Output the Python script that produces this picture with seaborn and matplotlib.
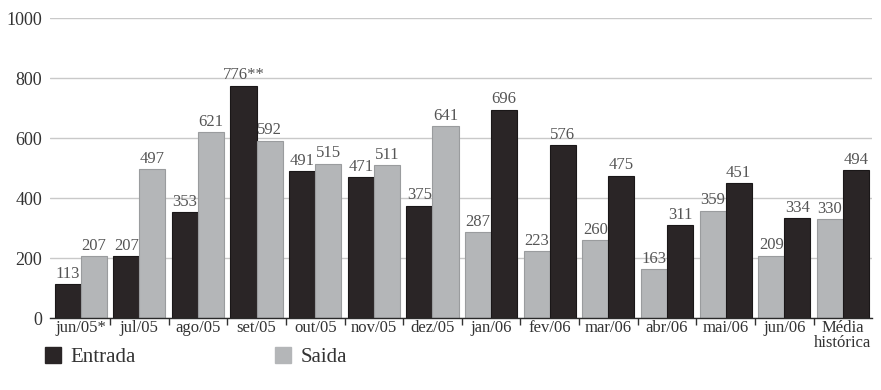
import numpy as np
import pandas as pd
import matplotlib
matplotlib.use("Agg")
import matplotlib.pyplot as plt
from matplotlib.patches import Patch
from matplotlib.ticker import FixedLocator
import seaborn as sns

# Monthly counts, June 2005 to June 2006, plus the historical mean
months = ["jun/05*", "jul/05", "ago/05", "set/05", "out/05", "nov/05", "dez/05",
          "jan/06", "fev/06", "mar/06", "abr/06", "mai/06", "jun/06", "Média\nhistórica"]
entrada = [113, 207, 353, 776, 491, 471, 375, 696, 576, 475, 311, 451, 334, 494]
saida = [207, 497, 621, 592, 515, 511, 641, 287, 223, 260, 163, 359, 209, 330]
entrada_notes = ["", "", "", "**", "", "", "", "", "", "", "", "", "", ""]
# From jan/06 on, the Saida bar is drawn first in each pair
saida_first = [False] * 7 + [True] * 7

DARK = "#2a2526"
GRAY = "#b4b6b8"
colors = {"Entrada": DARK, "Saida": GRAY}

rows = []
for m, e, s, note, sf in zip(months, entrada, saida, entrada_notes, saida_first):
    pair = [("Saida", s, ""), ("Entrada", e, note)] if sf else [("Entrada", e, note), ("Saida", s, "")]
    for slot, (series, val, nt) in zip(["left", "right"], pair):
        rows.append({"month": m, "slot": slot, "series": series, "value": val,
                     "label": f"{val}{nt}"})
df = pd.DataFrame(rows)

sns.set_theme(style="white")
plt.rcParams["font.family"] = ["Liberation Serif", "DejaVu Serif"]

fig = plt.figure(figsize=(8.81, 3.90), dpi=100)
ax = fig.add_axes([0.057, 0.184, 0.933, 0.769])

sns.barplot(data=df, x="month", y="value", hue="slot", hue_order=["left", "right"],
            order=months, width=0.89, palette=[DARK, GRAY], legend=False,
            linewidth=0.8, ax=ax)

for container, slot in zip(ax.containers, ["left", "right"]):
    sub = df[df["slot"] == slot].set_index("month").loc[months]
    for bar, (_, r) in zip(container, sub.iterrows()):
        c = colors[r["series"]]
        bar.set_facecolor(c)
        bar.set_edgecolor("#1a1718" if r["series"] == "Entrada" else "#9a9c9e")
        ax.text(bar.get_x() + bar.get_width() / 2, bar.get_height() + 8, r["label"],
                ha="center", va="bottom", fontsize=12, color="#555555")

ax.set_ylim(0, 1000)
ax.set_xlim(-0.52, 13.5)
ax.set_yticks([0, 200, 400, 600, 800, 1000])
ax.yaxis.grid(True, color="#c9c9c9", linewidth=1.0)
ax.set_axisbelow(True)
for side in ["left", "right", "top"]:
    ax.spines[side].set_visible(False)
ax.spines["bottom"].set_color("#2a2a2a")
ax.spines["bottom"].set_linewidth(1.0)

ax.set_xlabel("")
ax.set_ylabel("")
ax.set_xticks(range(len(months)))
ax.set_xticklabels(months, fontsize=12, color="#333333", linespacing=0.95)
ax.xaxis.set_minor_locator(FixedLocator(np.arange(0.5, len(months) - 1, 1.0)))
ax.tick_params(axis="x", which="major", length=0, pad=1)
ax.tick_params(axis="x", which="minor", length=5, width=1, color="#333333", direction="out", bottom=True)
ax.tick_params(axis="y", length=0, pad=6, labelsize=13, labelcolor="#333333")

handles = [Patch(facecolor=DARK, edgecolor=DARK, label="Entrada"),
           Patch(facecolor=GRAY, edgecolor=GRAY, label="Saida")]
fig.legend(handles=handles, loc="lower left", bbox_to_anchor=(0.03, 0.01), ncol=2,
           frameon=False, fontsize=15, handlelength=0.75, handleheight=0.75,
           handletextpad=0.45, columnspacing=6.7, labelcolor="#333333")

fig.savefig("out.png", dpi=100)
